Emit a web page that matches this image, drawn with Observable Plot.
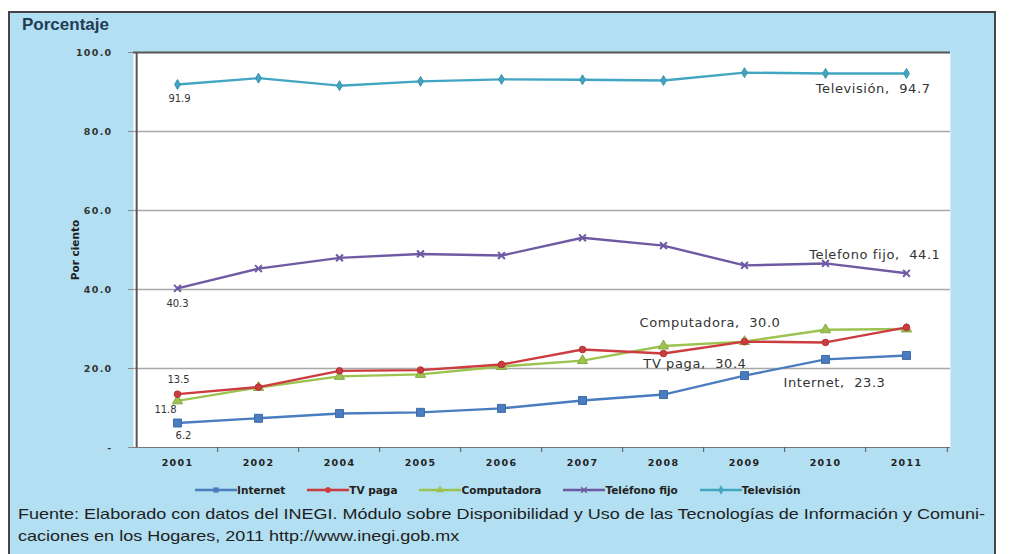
<!DOCTYPE html>
<html>
<head>
<meta charset="utf-8">
<script src="https://cdn.jsdelivr.net/npm/d3@7"></script>
<script src="https://cdn.jsdelivr.net/npm/@observablehq/plot@0.6"></script>
<style>
html,body{margin:0;padding:0;background:#fff;width:1012px;height:554px;overflow:hidden;font-family:"Liberation Sans",Arial,sans-serif;}
#box{position:absolute;left:8px;top:11px;width:984px;height:600px;background:#b2dff1;border:2px solid #444;}
#title{position:absolute;left:12px;top:2px;font-size:17px;font-weight:bold;color:#1f3d55;font-family:"Liberation Sans",Arial,sans-serif;}
#chart{position:absolute;left:0;top:29px;}
#legend{position:absolute;top:470px;left:185px;display:flex;gap:22px;align-items:center;font-family:"DejaVu Sans",sans-serif;font-weight:bold;font-size:10.5px;color:#222;line-height:14px;}
#legend .item{display:flex;align-items:center;}
#legend svg{display:block;}
.foot{position:absolute;left:8px;white-space:nowrap;font-size:14.5px;color:#1e1e1e;transform-origin:0 0;font-family:"Liberation Sans",Arial,sans-serif;}
</style>
</head>
<body>
<div id="box">
  <div id="title">Porcentaje</div>
  <div id="chart"></div>
  <div id="legend"></div>
  <div class="foot" id="f1" style="top:493px">Fuente: Elaborado con datos del INEGI. Módulo sobre Disponibilidad y Uso de las Tecnologías de Información y Comuni-</div>
  <div class="foot" id="f2" style="top:515px">caciones en los Hogares, 2011 http://www.inegi.gob.mx</div>
</div>
<script>
// ---- data ----
const years = ["2001","2002","2004","2005","2006","2007","2008","2009","2010","2011"];
const seriesNames = ["Internet","TV paga","Computadora","Teléfono fijo","Televisión"];
const endLabelNames = ["Internet","TV paga","Computadora","Telefono fijo","Televisión"];
const internet     = [6.2, 7.4, 8.6, 8.9, 9.9, 11.9, 13.4, 18.2, 22.3, 23.3];
const tvPaga       = [13.5, 15.3, 19.4, 19.6, 21.0, 24.8, 23.8, 26.8, 26.6, 30.4];
const computadora  = [11.8, 15.2, 18.0, 18.5, 20.5, 22.0, 25.7, 26.8, 29.8, 30.0];
const telefonoFijo = [40.3, 45.3, 48.0, 49.0, 48.6, 53.1, 51.1, 46.1, 46.6, 44.1];
const television   = [91.9, 93.5, 91.6, 92.7, 93.2, 93.1, 92.9, 94.9, 94.7, 94.7];
const yTicks = [0, 20, 40, 60, 80, 100];

// ---- styling ----
const allValues = [internet, tvPaga, computadora, telefonoFijo, television];
const colors = ["#4a7cc0", "#cc3b3e", "#9cc34f", "#6e5aa2", "#42a6c2"];
const symbols = ["square", "circle", "triangle", "times", "diamond"];
const radii = [4.5, 3.3, 3.8, 3.2, 3];

const rows = [];
seriesNames.forEach((s, i) => years.forEach((y, j) => rows.push({series: s, idx: i, year: y, value: allValues[i][j]})));

const W = 984, H = 440, mL = 123, mR = 44, mT = 10, mB = 35;
const step = (W - mL - mR) / years.length;

// label offsets (first and last points)
const startOff = [[6, 13], [1, -14], [-12, 9], [0, 15], [2, 14]];
const endOff = [[-21, 27], [-160, 36], [-126, -6], [34, -18], [24, 15]];

const marks = [
  Plot.frame({fill: "white", stroke: null}),
  Plot.ruleY([20, 40, 60, 80], {stroke: "#a8a8a8", strokeWidth: 1.3}),
  Plot.ruleY([0], {stroke: "#777", strokeWidth: 1.2}),
  Plot.ruleY([100], {stroke: "#555", strokeWidth: 2}),
  Plot.ruleX([years[0]], {dx: -step / 2, stroke: "#555", strokeWidth: 2}),
  Plot.ruleX(years.slice(1), {dx: -step / 2, y1: 0, y2: 0, insetBottom: -5, stroke: "#555"}),
  Plot.ruleX([years[years.length - 1]], {dx: step / 2, y1: 0, y2: 0, insetBottom: -5, stroke: "#555"}),
  Plot.axisY({ticks: yTicks, tickFormat: d => d === 0 ? "-" : d.toFixed(1), tickSize: 5, tickPadding: 16, stroke: "#888", fontWeight: "bold", fontSize: 9.5, fill: "#333", label: null}),
  Plot.axisX({tickSize: 0, tickPadding: 12, fontWeight: "bold", fontSize: 9.5, fill: "#222", label: null}),
  Plot.text(["Por ciento"], {frameAnchor: "left", textAnchor: "middle", rotate: -90, dx: -58, fontWeight: "bold", fontSize: 10.5, fill: "#222"})
];

[4, 3, 2, 1, 0].forEach(i => {
  const data = rows.filter(r => r.idx === i);
  marks.push(Plot.line(data, {x: "year", y: "value", stroke: colors[i], strokeWidth: 2.4}));
  const isStroke = symbols[i] === "times";
  marks.push(Plot.dot(data, {x: "year", y: "value", symbol: symbols[i], r: radii[i],
    fill: isStroke ? "none" : colors[i], stroke: isStroke ? colors[i] : d3.color(colors[i]).darker(0.4).formatHex(), strokeWidth: isStroke ? 2 : 1}));
  const first = data[0], last = data[data.length - 1];
  marks.push(Plot.text([first], {x: "year", y: "value", text: d => d.value.toFixed(1),
    dx: startOff[i][0], dy: startOff[i][1], fontSize: 10, fill: "#333", style: {letterSpacing: "1.2px"}}));
  marks.push(Plot.text([last], {x: "year", y: "value", text: d => `${endLabelNames[i]},  ${d.value.toFixed(1)}`,
    dx: endOff[i][0], dy: endOff[i][1], textAnchor: "end", fontSize: 13, fill: "#333"}));
});

const chart = Plot.plot({
  width: W, height: H, marginLeft: mL, marginRight: mR, marginTop: mT, marginBottom: mB,
  style: {background: "transparent", fontFamily: "DejaVu Sans, sans-serif", overflow: "visible"},
  x: {type: "point", domain: years, padding: 0.5},
  y: {domain: [0, 100]},
  marks
});
d3.select(chart).selectAll("g[aria-label='x-axis tick label'] text, g[aria-label='y-axis tick label'] text").style("letter-spacing", "1.3px");
d3.select(chart).selectAll("text").filter(function(){ return /,/.test(this.textContent); }).style("letter-spacing", "0.6px").style("white-space", "pre");
document.getElementById("chart").appendChild(chart);

// ---- legend ----
const legend = d3.select("#legend");
seriesNames.forEach((s, i) => {
  const it = legend.append("div").attr("class", "item");
  const sv = it.append("svg").attr("width", 42).attr("height", 10);
  sv.append("line").attr("x1", 0).attr("x2", 42).attr("y1", 5).attr("y2", 5).attr("stroke", colors[i]).attr("stroke-width", 2.5);
  sv.append("path").attr("transform", "translate(21,5)").attr("d", d3.symbol(i === 3 ? d3.symbolTimes : [d3.symbolSquare, d3.symbolCircle, d3.symbolTriangle, null, d3.symbolDiamond][i], 22)())
    .attr("fill", i === 3 ? "none" : colors[i]).attr("stroke", colors[i]).attr("stroke-width", i === 3 ? 1.5 : 0.5);
  it.append("span").text(s);
});

// ---- fit footer width ----
const f1 = document.getElementById("f1"), f2 = document.getElementById("f2");
const w1 = f1.getBoundingClientRect().width;
const sc = 967 / w1;
f1.style.transform = `scaleX(${sc})`;
f2.style.transform = `scaleX(${sc})`;
</script>
</body>
</html>
